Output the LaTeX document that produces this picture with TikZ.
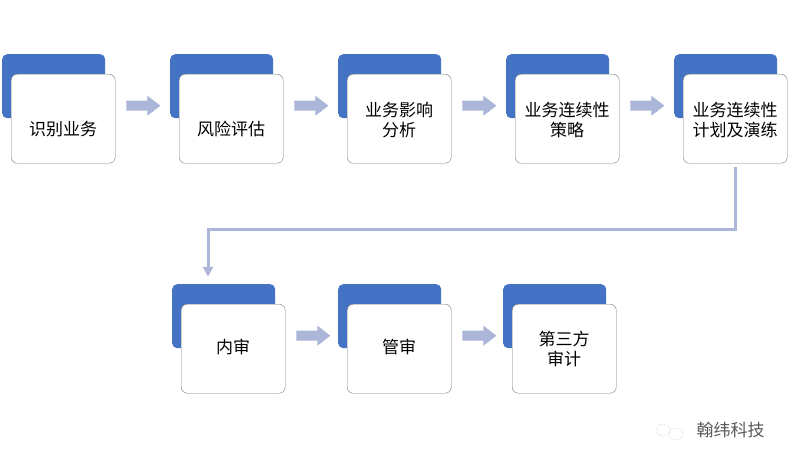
\documentclass[tikz,border=0pt]{standalone}
\usepackage{fontspec}
\setmainfont{Noto Sans CJK SC}
\usetikzlibrary{positioning}
\usetikzlibrary{calc}
\definecolor{tabblue}{RGB}{68,114,196}
\definecolor{arrowblue}{RGB}{172,182,216}
\definecolor{edgegray}{RGB}{120,120,125}

\tikzset{
  tab/.style={fill=tabblue,rounded corners=5pt,minimum width=103pt,minimum height=64pt,inner sep=0pt},
  card/.style={draw=edgegray,fill=white,rounded corners=6pt,minimum width=104pt,minimum height=89pt,
    inner sep=0pt},
  cardtext/.style={align=center,font=\fontsize{17}{20}\selectfont,inner sep=0pt},
  blockarrow/.style={fill=arrowblue,draw=none}
}
\newcommand\stepcard[5]{% name, tab x, tab y, text, text shift
  \node[tab,anchor=north west] (#1t) at (#2,#3) {};
  \node[card,anchor=north west] (#1) at ($(#1t.north west)+(9,20)$) {};
  \node[cardtext] (#1l) at ($(#1)+(0,#5)$) {#4};
}
\newcommand\flowarrow[2]{% from, to
  \path let \p1=(#1.east) in
    [blockarrow] (\x1+11,\y1+13) ++(0,5) -- ++(21,0) -- ++(0,5) -- ++(13,-10) -- ++(-13,-10) -- ++(0,5) -- ++(-21,0) -- cycle;
}

\begin{document}
\begin{tikzpicture}[x=1pt,y=-1pt]
\useasboundingbox[fill=white] (0,0) rectangle (800,463);

% upper row
\stepcard{id}{2}{54}{识别业务}{10}
\stepcard{risk}{170}{54}{风险评估}{10}
\stepcard{bia}{338}{54}{业务影响\\分析}{1}
\stepcard{strat}{506}{54}{业务连续性\\策略}{1}
\stepcard{plan}{674}{54}{业务连续性\\计划及演练}{1}

% lower row
\stepcard{inner}{172}{284}{内审}{-2}
\stepcard{mgmt}{338}{284}{管审}{-2}
\stepcard{third}{503}{284}{第三方\\审计}{0}

\flowarrow{id}{risk}
\flowarrow{risk}{bia}
\flowarrow{bia}{strat}
\flowarrow{strat}{plan}
\flowarrow{inner}{mgmt}
\flowarrow{mgmt}{third}

% link between rows
\coordinate (bend) at (208,229);
\draw[arrowblue,line width=3pt] ($(plan.south)+(0,4)$) |- (bend) -- ++(0,38);
\draw[arrowblue,fill=arrowblue] (203,267) -- (213,267) -- (208,276) -- cycle;

% watermark
\draw[gray!60,densely dotted] (663,430) ellipse (7pt and 6pt);
\draw[gray!60,densely dotted] (676,434) ellipse (7pt and 6pt);
\node[gray!70!black,font=\fontsize{17}{18}\selectfont,anchor=west] (mark) at (693,430) {翰纬科技};
\end{tikzpicture}
\end{document}
